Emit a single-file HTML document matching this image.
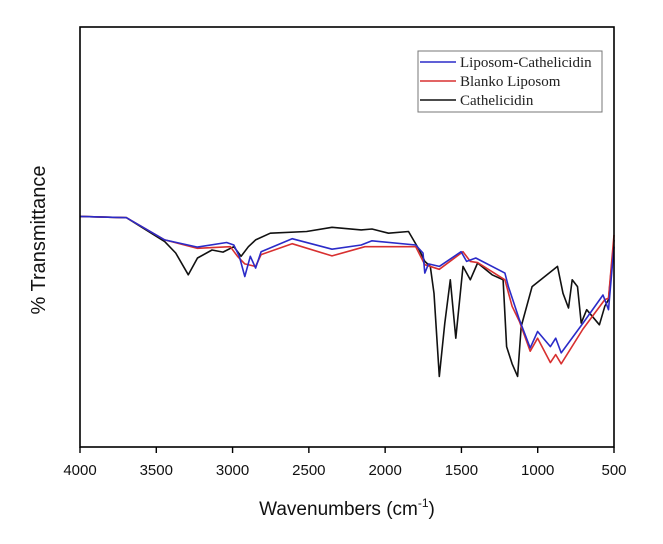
<!DOCTYPE html>
<html><head><meta charset="utf-8"><style>
html,body{margin:0;padding:0;background:#fff;}
svg{display:block;font-family:"Liberation Sans",Arial,sans-serif;}
</style></head><body>
<svg id="chart" width="663" height="544" viewBox="0 0 663 544">
<rect x="0" y="0" width="663" height="544" fill="#fff"/>
<g id="series"></g>
<rect x="80" y="27" width="534" height="420" fill="none" stroke="#000" stroke-width="1.6"/>
<g id="xticks"></g>
<text x="45" y="240" font-size="20" text-anchor="middle" transform="rotate(-90 45 240)" fill="#111">% Transmittance</text>
<text x="347" y="515" font-size="19" text-anchor="middle" fill="#111">Wavenumbers (cm<tspan font-size="12" dy="-8">-1</tspan><tspan dy="8">)</tspan></text>
<g>
<rect x="418" y="51" width="184" height="61" fill="#fff" stroke="#777" stroke-width="1"/>
<line x1="420" y1="62" x2="456" y2="62" stroke="#2b2bc8" stroke-width="1.6"/>
<text x="460" y="67" font-family="Liberation Serif,serif" font-size="15" fill="#222">Liposom-Cathelicidin</text>
<line x1="420" y1="81" x2="456" y2="81" stroke="#d83030" stroke-width="1.6"/>
<text x="460" y="86" font-family="Liberation Serif,serif" font-size="15" fill="#222">Blanko Liposom</text>
<line x1="420" y1="100" x2="456" y2="100" stroke="#111" stroke-width="1.6"/>
<text x="460" y="105" font-family="Liberation Serif,serif" font-size="15" fill="#222">Cathelicidin</text>
</g>
</svg>
<script>
const xTicks = [4000,3500,3000,2500,2000,1500,1000,500];
const blueWn = [4000,3695,3445,3230,3039,2992,2956,2920,2884,2849,2813,2610,2348,2157,2086,1800,1752,1740,1716,1645,1502,1466,1406,1215,1192,1120,1049,1001,917,882,846,703,572,536,500];
const blueT  = [54.9,54.6,49.3,47.6,48.7,48.1,45.4,40.6,45.4,42.6,46.5,49.6,47.1,48.1,49.1,48.1,46.2,41.4,43.6,43.0,46.5,44.2,45.0,41.4,38.2,30.3,23.6,27.5,23.9,25.9,22.4,29.5,36.2,32.7,47.7];
const redWn = [4000,3695,3445,3230,3015,2968,2920,2849,2813,2610,2348,2133,1800,1740,1645,1490,1442,1394,1215,1168,1120,1049,1001,917,882,846,703,560,536,500];
const redT  = [54.9,54.6,49.3,47.3,47.7,45.4,43.6,43.0,45.8,48.4,45.5,47.7,47.7,43.4,42.3,46.5,44.2,43.9,39.8,33.5,29.9,22.8,25.9,20.1,22.0,19.8,28.1,35.1,35.4,50.5];
const blackWn = [4000,3695,3445,3373,3290,3230,3135,3063,2992,2944,2896,2849,2753,2515,2348,2157,2086,1978,1847,1776,1740,1704,1680,1645,1609,1573,1537,1490,1442,1394,1299,1227,1204,1168,1132,1108,1037,870,834,798,774,739,715,679,596,560,536,500];
const blackT  = [54.9,54.6,48.9,46.2,41.0,45.0,46.9,46.4,47.7,45.4,47.7,49.3,50.9,51.3,52.3,51.7,51.9,50.9,51.3,46.9,44.2,43.0,36.6,16.8,29.5,39.8,25.9,43.0,39.8,43.8,41.0,39.8,23.9,19.8,16.8,28.7,38.2,43.0,36.6,33.1,39.8,38.2,29.5,32.7,29.1,33.5,35.1,49.3];

const NS='http://www.w3.org/2000/svg';
const X0=80,X1=614,Y0=447,Y1=27;
function xs(w){return X0+(4000-w)/(4000-500)*(X1-X0);}
function ys(t){return Y0-t/100*(Y0-Y1);}

const tg=document.getElementById('xticks');
xTicks.forEach(t=>{
  const l=document.createElementNS(NS,'line');
  l.setAttribute('x1',xs(t));l.setAttribute('x2',xs(t));
  l.setAttribute('y1',Y0);l.setAttribute('y2',Y0+6);
  l.setAttribute('stroke','#000');l.setAttribute('stroke-width','1.4');
  
  
  tg.appendChild(l);
  const tx=document.createElementNS(NS,'text');
  tx.setAttribute('x',xs(t));tx.setAttribute('y',475);
  tx.setAttribute('text-anchor','middle');tx.setAttribute('font-size','15');tx.setAttribute('fill','#111');
  tx.textContent=t;
  
  
  tg.appendChild(tx);
});

const sg=document.getElementById('series');
function draw(wn,t,color,name){
  const p=document.createElementNS(NS,'path');
  let d='';
  wn.forEach((w,i)=>{d+=(i?'L':'M')+xs(w).toFixed(1)+' '+ys(t[i]).toFixed(1);});
  p.setAttribute('d',d);p.setAttribute('fill','none');
  p.setAttribute('stroke',color);p.setAttribute('stroke-width','1.6');p.setAttribute('stroke-linejoin','round');
  
  
  sg.appendChild(p);
}
draw(blackWn,blackT,'#111','cathelicidin-line');
draw(redWn,redT,'#d83030','blanko-liposom-line');
draw(blueWn,blueT,'#2b2bc8','liposom-cathelicidin-line');
</script>
</body></html>
